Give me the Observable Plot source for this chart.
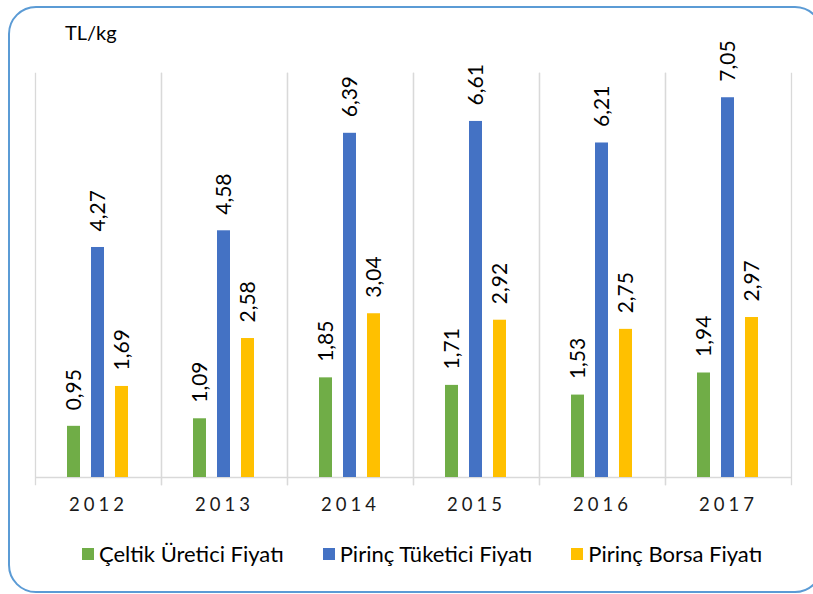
<!DOCTYPE html>
<html>
<head>
<meta charset="utf-8">
<script src="https://cdn.jsdelivr.net/npm/d3@7"></script>
<script src="https://cdn.jsdelivr.net/npm/@observablehq/plot@0.6"></script>
<style>
  html, body { margin: 0; padding: 0; background: #fff; }
  body { position: relative; width: 813px; height: 594px; overflow: hidden; font-family: Lato, sans-serif; }
  #frame { position: absolute; left: 8px; top: 6px; width: 815px; height: 587px; box-sizing: border-box;
           border: 2px solid #5b9bd5; border-radius: 28px; }
  #unit { position: absolute; left: 65px; top: 22px; font-size: 20px; line-height: 20px; color: #000; }
  #chart { position: absolute; left: 0; top: 0; }
  #chart svg [aria-label^="fx-axis"] text { letter-spacing: 4px; fill: #1a1a1a; }
  #legend { position: absolute; left: 82px; top: 537px; }
  #legend .lg-swatches, #legend .lg-swatch { font-family: Lato, sans-serif !important; font-size: 22px !important; color: #000 !important; }
  #legend .lg-swatch { margin-right: 39px !important; }
  #legend .lg-swatch > svg { margin-right: 5px !important; }
</style>
</head>
<body>
<div id="frame"></div>
<div id="unit">TL/kg</div>
<div id="chart"></div>
<div id="legend"></div>
<script>
const years = ["2012", "2013", "2014", "2015", "2016", "2017"];
const series = ["Çeltik Üretici Fiyatı", "Pirinç Tüketici Fiyatı", "Pirinç Borsa Fiyatı"];
const celtikUretici = [0.95, 1.09, 1.85, 1.71, 1.53, 1.94];
const pirincTuketici = [4.27, 4.58, 6.39, 6.61, 6.21, 7.05];
const pirincBorsa = [1.69, 2.58, 3.04, 2.92, 2.75, 2.97];
const colors = ["#70AD47", "#4472C4", "#FFC000"];

const valuesBySeries = [celtikUretici, pirincTuketici, pirincBorsa];
const rows = [];
years.forEach((year, i) => {
  series.forEach((s, j) => rows.push({year, series: s, value: valuesBySeries[j][i]}));
});
const fmt = v => v.toFixed(2).replace(".", ",");

const plot = Plot.plot({
  width: 813,
  height: 520,
  marginTop: 73,
  marginBottom: 43,
  marginLeft: 33,
  marginRight: 21,
  style: {fontFamily: "Lato, sans-serif", fontSize: "18.5px", color: "#1a1a1a", background: "transparent"},
  fx: {domain: years, padding: 0, label: null, tickSize: 0, tickPadding: 20, axis: "bottom"},
  x: {domain: series, axis: null, paddingInner: 0.449, paddingOuter: 1.306},
  y: {domain: [0, 7.5], axis: null},
  color: {domain: series, range: colors},
  marks: [
    Plot.frame({anchor: "left", stroke: "#d9d9d9", strokeWidth: 1.3, insetBottom: -7}),
    Plot.frame({anchor: "right", stroke: "#d9d9d9", strokeWidth: 1.3, insetBottom: -7}),
    Plot.ruleY([0], {stroke: "#d9d9d9", strokeWidth: 1.3}),
    Plot.barY(rows, {fx: "year", x: "series", y: "value", fill: "series"}),
    Plot.text(rows, {
      fx: "year", x: "series", y: "value", text: d => fmt(d.value),
      rotate: -90, textAnchor: "start", dy: -16, fontSize: 21, fill: "#000"
    })
  ]
});
document.getElementById("chart").appendChild(plot);

const legend = Plot.legend({
  color: {domain: series, range: colors},
  legend: "swatches",
  swatchSize: 12,
  className: "lg"
});
document.getElementById("legend").appendChild(legend);
</script>
</body>
</html>
